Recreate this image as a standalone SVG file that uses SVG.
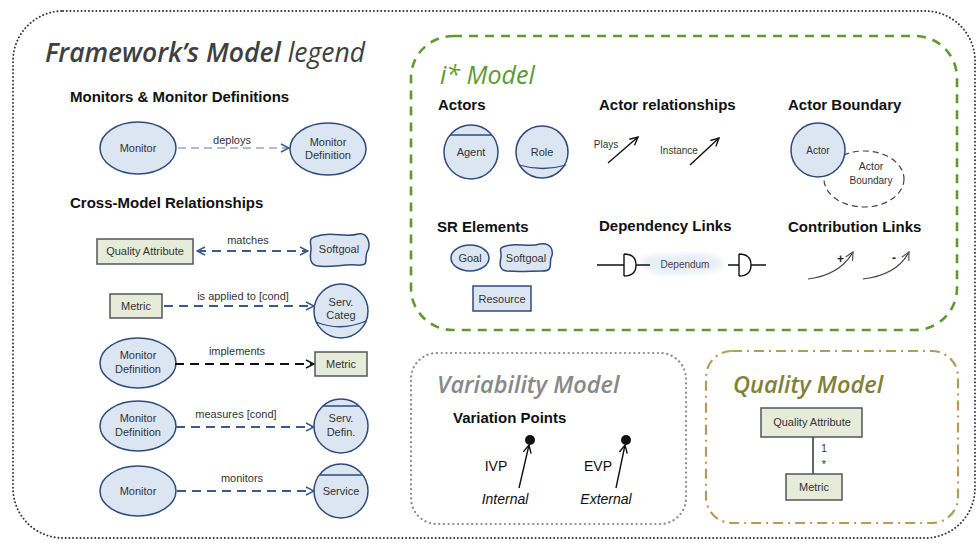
<svg xmlns="http://www.w3.org/2000/svg" width="977" height="543" viewBox="0 0 977 543">
<defs>
<style>
.t{font-family:"Liberation Sans",Arial,sans-serif;font-size:11px;fill:#333;text-anchor:middle}
.h{font-family:"Liberation Sans",Arial,sans-serif;font-size:15px;font-weight:bold;fill:#111}
.ell{fill:#dce6f2;stroke:#2f4b7c;stroke-width:1.5}
.box{fill:#e7ebd9;stroke:#555;stroke-width:1.5}
.rbox{fill:#dce6f2;stroke:#2f4b7c;stroke-width:1.5}
.bl{fill:none;stroke:#2f4b7c;stroke-width:1.3}
.dl{fill:none;stroke:#5b7fb5;stroke-width:1.2;stroke-dasharray:8,5}
.dd{fill:none;stroke:#3a5a8c;stroke-width:1.8;stroke-dasharray:9,6}
.dk{fill:none;stroke:#111;stroke-width:1.8;stroke-dasharray:9,6}
.ln{fill:none;stroke:#111;stroke-width:1.4}
</style>
<marker id="ab" viewBox="0 0 10 10" refX="9" refY="5" markerWidth="10" markerHeight="10" markerUnits="userSpaceOnUse" orient="auto-start-reverse"><path d="M1,1 L9,5 L1,9" fill="none" stroke="#3a5a8c" stroke-width="1.4"/></marker>
<marker id="ak" viewBox="0 0 10 10" refX="9" refY="5" markerWidth="10" markerHeight="10" markerUnits="userSpaceOnUse" orient="auto"><path d="M1,1 L9,5 L1,9" fill="none" stroke="#111" stroke-width="1.4"/></marker>
<marker id="ag" viewBox="0 0 10 10" refX="9" refY="5" markerWidth="10" markerHeight="10" markerUnits="userSpaceOnUse" orient="auto"><path d="M1,1 L9,5 L1,9" fill="none" stroke="#555" stroke-width="1.2"/></marker>
<filter id="blur"><feGaussianBlur stdDeviation="3"/></filter>
</defs>
<rect width="977" height="543" fill="#fff"/>

<!-- outer frame -->
<rect x="13" y="11" width="962" height="527" rx="50" fill="none" stroke="#333" stroke-width="1.9" stroke-dasharray="0.1,3.6" stroke-linecap="round"/>

<g id="title">
<text x="45" y="62" font-family="'Open Sans',sans-serif" font-style="italic" font-size="26.5" fill="#404040"><tspan font-weight="600">Framework’s Model</tspan><tspan font-weight="normal"> legend</tspan></text>
</g>

<text class="h" x="70" y="102">Monitors &amp; Monitor Definitions</text>
<text class="h" x="70" y="208">Cross-Model Relationships</text>

<!-- nodes left -->
<g id="monitor1"><ellipse class="ell" cx="138" cy="148" rx="38" ry="26"/><text class="t" x="138" y="152">Monitor</text></g>
<g id="monitorDef1"><ellipse class="ell" cx="328" cy="149" rx="38" ry="26"/><text class="t" x="328" y="146">Monitor</text><text class="t" x="328" y="159">Definition</text></g>

<g id="qa1"><rect class="box" x="97" y="239" width="96" height="25"/><text class="t" x="145" y="255">Quality Attribute</text></g>
<g id="softgoal1"><path class="ell" d="M318,236 C330,231 346,238 358,234 C369,232 371,246 367,252 C364,262 370,266 356,265 C343,264 330,268 318,266 C309,265 310,256 311,250 C312,244 306,238 318,236 Z"/><text class="t" x="339" y="253">Softgoal</text></g>

<g id="metric1"><rect class="box" x="110" y="294" width="52" height="24"/><text class="t" x="136" y="310">Metric</text></g>
<g id="servCateg"><circle class="ell" cx="341" cy="311" r="27"/><path class="bl" d="M316,322 Q341,332 366,321"/><text class="t" x="341" y="306">Serv.</text><text class="t" x="341" y="319">Categ</text></g>

<g id="monitorDef2"><ellipse class="ell" cx="138" cy="363" rx="38" ry="25"/><text class="t" x="138" y="359">Monitor</text><text class="t" x="138" y="373">Definition</text></g>
<g id="metric2"><rect class="box" x="315" y="352" width="52" height="24"/><text class="t" x="341" y="368">Metric</text></g>

<g id="monitorDef3"><ellipse class="ell" cx="138" cy="426" rx="38" ry="25"/><text class="t" x="138" y="422">Monitor</text><text class="t" x="138" y="436">Definition</text></g>
<g id="servDefin"><circle class="ell" cx="341" cy="426" r="27"/><line class="bl" x1="323" y1="406" x2="359" y2="406"/><text class="t" x="341" y="422">Serv.</text><text class="t" x="341" y="436">Defin.</text></g>

<g id="monitor2"><ellipse class="ell" cx="138" cy="491" rx="38" ry="25"/><text class="t" x="138" y="495">Monitor</text></g>
<g id="service"><circle class="ell" cx="341" cy="491" r="27"/><line class="bl" x1="320" y1="475" x2="362" y2="475"/><text class="t" x="341" y="495">Service</text></g>

<g id="connectors">
<line class="dl" x1="178" y1="148" x2="289" y2="148" marker-end="url(#ab)"/>
<line class="dd" x1="197" y1="251" x2="308" y2="251" marker-start="url(#ab)" marker-end="url(#ab)"/>
<line class="dd" x1="164" y1="306" x2="314" y2="306" marker-end="url(#ab)"/>
<line class="dk" x1="175" y1="364" x2="314" y2="364" marker-end="url(#ak)"/>
<line class="dd" x1="176" y1="427" x2="314" y2="427" marker-end="url(#ab)"/>
<line class="dd" x1="177" y1="491" x2="314" y2="491" marker-end="url(#ab)"/>
<line x1="813" y1="437" x2="813" y2="474" stroke="#111" stroke-width="1.3"/>
</g>
<g id="conn-labels">
<text class="t" x="232" y="144">deploys</text>
<text class="t" x="248" y="244">matches</text>
<text class="t" x="243" y="300">is applied to [cond]</text>
<text class="t" x="237" y="355">implements</text>
<text class="t" x="236" y="418">measures [cond]</text>
<text class="t" x="242" y="482">monitors</text>
</g>

<!-- i* model -->
<g id="istar">
<rect x="411" y="36" width="546" height="294" rx="42" fill="none" stroke="#5e9a30" stroke-width="2.6" stroke-dasharray="9,7"/>
<text x="440" y="84" font-family="'Open Sans',sans-serif" font-style="italic" font-size="25" fill="#5e9a30">i* Model</text>
<text class="h" x="438" y="110">Actors</text>
<text class="h" x="599" y="110">Actor relationships</text>
<text class="h" x="788" y="110">Actor Boundary</text>
<text class="h" x="437" y="232">SR Elements</text>
<text class="h" x="599" y="231">Dependency Links</text>
<text class="h" x="788" y="232">Contribution Links</text>
</g>
<g id="agent"><circle class="ell" cx="471" cy="152" r="27"/><line class="bl" x1="450" y1="135" x2="492" y2="135"/><text class="t" x="471" y="156">Agent</text></g>
<g id="role"><circle class="ell" cx="542" cy="152" r="26"/><path class="bl" d="M519,165 Q543,172 566,165"/><text class="t" x="542" y="156">Role</text></g>
<g id="plays"><text class="t" x="606" y="148" style="font-size:10px">Plays</text><line class="ln" x1="608" y1="163" x2="638" y2="137" marker-end="url(#ak)"/></g>
<g id="instance"><text class="t" x="679" y="154" style="font-size:10px">Instance</text><line class="ln" x1="690" y1="165" x2="719" y2="138" marker-end="url(#ak)"/></g>
<g id="actorBoundary"><ellipse cx="864" cy="179" rx="40" ry="28" fill="#fff" stroke="#444" stroke-width="1.2" stroke-dasharray="6,4"/><circle class="ell" cx="818" cy="150" r="27"/><text class="t" x="818" y="154" style="font-size:10px">Actor</text><text class="t" x="871" y="170" style="font-size:10.5px">Actor</text><text class="t" x="871" y="184" style="font-size:10px">Boundary</text></g>
<g id="goal"><ellipse class="ell" cx="470" cy="258" rx="19" ry="13"/><text class="t" x="470" y="262">Goal</text></g>
<g id="softgoal2"><path class="ell" d="M506,246 C518,242 528,248 540,244 C552,242 554,252 551,258 C549,264 554,271 542,271 C531,271 519,272 507,271 C498,270 500,262 501,257 C502,251 497,248 506,246 Z"/><text class="t" x="526" y="262">Softgoal</text></g>
<g id="resource"><rect class="rbox" x="473" y="286" width="58" height="25"/><text class="t" x="502" y="303">Resource</text></g>
<g id="dependency">
<path d="M640,262 C650,252 670,256 690,254 C705,252 720,258 724,264 C720,272 700,272 680,274 C662,276 645,272 640,262 Z" fill="#d3dfef" opacity="0.55" filter="url(#blur)"/>
<path class="ln" d="M597,265 H624 M624,254 V276 M624,254 Q636,254 636,265 Q636,276 624,276 M636,265 H650"/>
<text class="t" x="685" y="268" style="font-size:10px;fill:#444">Dependum</text>
<path class="ln" d="M728,265 H739 M739,254 V276 M739,254 Q751,254 751,265 Q751,276 739,276 M751,265 H766"/>
</g>
<g id="contribution">
<path d="M808,279 Q840,275 853,252" fill="none" stroke="#444" stroke-width="1.2" marker-end="url(#ag)"/>
<text x="837" y="263" font-family="'Liberation Sans',Arial,sans-serif" font-size="12" font-weight="bold" fill="#222">+</text>
<path d="M863,279 Q897,275 909,252" fill="none" stroke="#444" stroke-width="1.2" marker-end="url(#ag)"/>
<text x="892" y="262" font-family="'Liberation Sans',Arial,sans-serif" font-size="12" font-weight="bold" fill="#222">-</text>
</g>

<!-- variability model -->
<g id="variability">
<rect x="411" y="353" width="275" height="171" rx="26" fill="none" stroke="#888" stroke-width="2.2" stroke-dasharray="0.1,4.6" stroke-linecap="round"/>
<text x="437" y="393" font-family="'Open Sans',sans-serif" font-style="italic" font-weight="600" font-size="23.5" fill="#888">Variability Model</text>
<text class="h" x="453" y="423">Variation Points</text>
</g>
<g id="ivp"><text class="t" x="496" y="471" style="font-size:14px;fill:#111">IVP</text><line class="ln" x1="519" y1="488" x2="529" y2="445" marker-end="url(#ak)"/><circle cx="530" cy="440" r="5" fill="#111"/><text class="t" x="505" y="504" style="font-size:14px;font-style:italic;fill:#111">Internal</text></g>
<g id="evp"><text class="t" x="598" y="471" style="font-size:14px;fill:#111">EVP</text><line class="ln" x1="616" y1="488" x2="625" y2="445" marker-end="url(#ak)"/><circle cx="626" cy="440" r="5" fill="#111"/><text class="t" x="606" y="504" style="font-size:14px;font-style:italic;fill:#111">External</text></g>

<!-- quality model -->
<g id="quality">
<rect x="706" y="351" width="252" height="172" rx="26" fill="none" stroke="#b59a5a" stroke-width="2.2" stroke-dasharray="10,5,2,5"/>
<text x="733" y="393" font-family="'Open Sans',sans-serif" font-style="italic" font-weight="600" font-size="23.5" fill="#7f8236">Quality Model</text>
</g>
<g id="qa2"><rect class="box" x="761" y="408" width="101" height="29"/><text class="t" x="812" y="426">Quality Attribute</text></g>
<g id="metric3"><rect class="box" x="786" y="474" width="56" height="26"/><text class="t" x="814" y="491">Metric</text></g>
<text class="t" x="824" y="452" style="font-size:10px">1</text>
<text class="t" x="824" y="468" style="font-size:11px">*</text>
</svg>
